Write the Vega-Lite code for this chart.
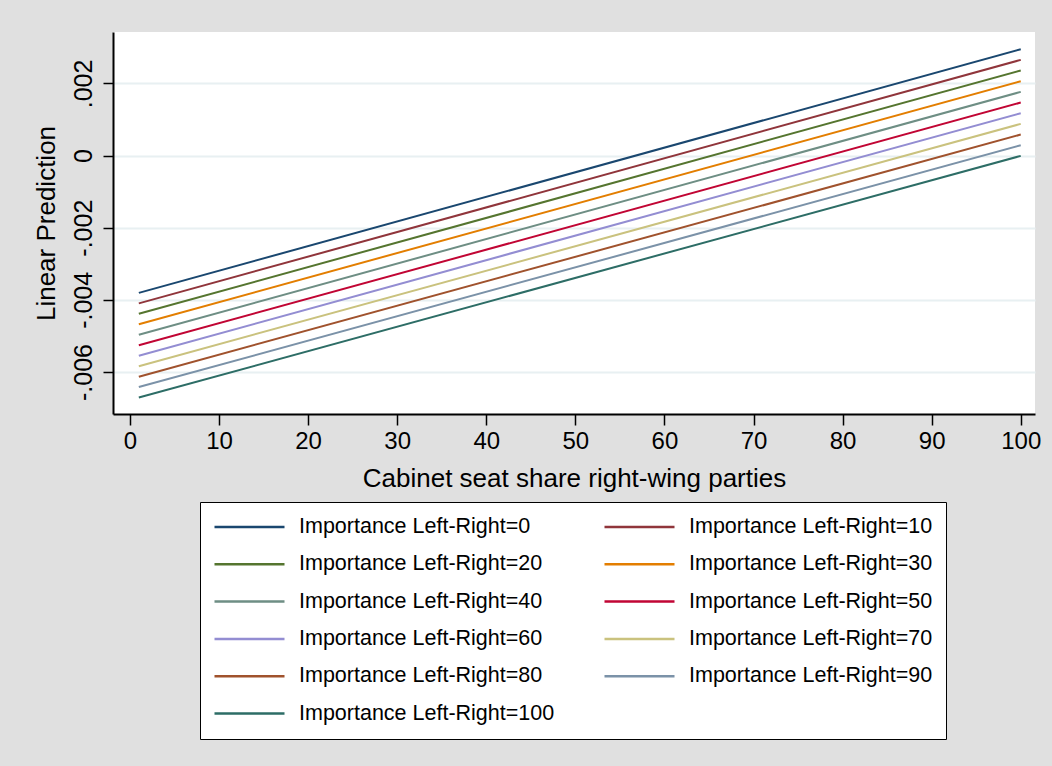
{
  "$schema": "https://vega.github.io/schema/vega-lite/v6.json",
  "autosize": {"type": "none"},
  "width": 922,
  "height": 382,
  "padding": {"left": 113, "top": 32, "right": 17, "bottom": 352},
  "background": "#e0e0e0",
  "config": {
    "font": "Liberation Sans",
    "view": {"fill": "white", "stroke": null}
  },
  "data": {
    "values": [
      {"share": 1, "pred": -0.003806, "grp": "Importance Left-Right=0"},
      {"share": 100, "pred": 0.002949, "grp": "Importance Left-Right=0"},
      {"share": 1, "pred": -0.004097, "grp": "Importance Left-Right=10"},
      {"share": 100, "pred": 0.002653, "grp": "Importance Left-Right=10"},
      {"share": 1, "pred": -0.004385, "grp": "Importance Left-Right=20"},
      {"share": 100, "pred": 0.002359, "grp": "Importance Left-Right=20"},
      {"share": 1, "pred": -0.004676, "grp": "Importance Left-Right=30"},
      {"share": 100, "pred": 0.002062, "grp": "Importance Left-Right=30"},
      {"share": 1, "pred": -0.004967, "grp": "Importance Left-Right=40"},
      {"share": 100, "pred": 0.001766, "grp": "Importance Left-Right=40"},
      {"share": 1, "pred": -0.005259, "grp": "Importance Left-Right=50"},
      {"share": 100, "pred": 0.001469, "grp": "Importance Left-Right=50"},
      {"share": 1, "pred": -0.005547, "grp": "Importance Left-Right=60"},
      {"share": 100, "pred": 0.001175, "grp": "Importance Left-Right=60"},
      {"share": 1, "pred": -0.005838, "grp": "Importance Left-Right=70"},
      {"share": 100, "pred": 0.000879, "grp": "Importance Left-Right=70"},
      {"share": 1, "pred": -0.006129, "grp": "Importance Left-Right=80"},
      {"share": 100, "pred": 0.000582, "grp": "Importance Left-Right=80"},
      {"share": 1, "pred": -0.006417, "grp": "Importance Left-Right=90"},
      {"share": 100, "pred": 0.000286, "grp": "Importance Left-Right=90"},
      {"share": 1, "pred": -0.006708, "grp": "Importance Left-Right=100"},
      {"share": 100, "pred": -0.000008, "grp": "Importance Left-Right=100"}
    ]
  },
  "mark": {"type": "line", "strokeWidth": 2, "strokeCap": "butt"},
  "encoding": {
    "x": {
      "field": "share",
      "type": "quantitative",
      "scale": {"domain": [-1.9, 101.6], "nice": false, "zero": false},
      "axis": {
        "values": [0, 10, 20, 30, 40, 50, 60, 70, 80, 90, 100],
        "title": "Cabinet seat share right-wing parties",
        "titleFont": "Liberation Sans",
        "titleFontSize": 26,
        "titleFontWeight": "normal",
        "titleColor": "black",
        "titlePadding": 12,
        "labelFont": "Liberation Sans",
        "labelFontSize": 24,
        "labelColor": "black",
        "labelPadding": 4,
        "labelBaseline": "top",
        "labelFlush": false,
        "labelOverlap": false,
        "grid": false,
        "domainColor": "black",
        "domainWidth": 2,
        "tickColor": "black",
        "tickWidth": 1.5,
        "tickSize": 11
      }
    },
    "y": {
      "field": "pred",
      "type": "quantitative",
      "scale": {"domain": [-0.007164, 0.003425], "nice": false, "zero": false},
      "axis": {
        "values": [-0.006, -0.004, -0.002, 0, 0.002],
        "labelExpr": "datum.value == 0 ? '0' : (datum.value < 0 ? '-' : '') + '.' + format(abs(datum.value) * 1000, '03d')",
        "title": "Linear Prediction",
        "titleFont": "Liberation Sans",
        "titleFontSize": 26,
        "titleFontWeight": "normal",
        "titleColor": "black",
        "titlePadding": 12,
        "labelFont": "Liberation Sans",
        "labelFontSize": 25,
        "labelColor": "black",
        "labelAngle": -90,
        "labelAlign": "center",
        "labelBaseline": "alphabetic",
        "labelPadding": 12,
        "labelFlush": false,
        "labelOverlap": false,
        "grid": true,
        "gridColor": "#e8f0f2",
        "gridWidth": 2,
        "domainColor": "black",
        "domainWidth": 2,
        "tickColor": "black",
        "tickWidth": 1.5,
        "tickSize": 10
      }
    },
    "color": {
      "field": "grp",
      "type": "nominal",
      "scale": {
        "domain": [
          "Importance Left-Right=0",
          "Importance Left-Right=20",
          "Importance Left-Right=40",
          "Importance Left-Right=60",
          "Importance Left-Right=80",
          "Importance Left-Right=100",
          "Importance Left-Right=10",
          "Importance Left-Right=30",
          "Importance Left-Right=50",
          "Importance Left-Right=70",
          "Importance Left-Right=90"
        ],
        "range": ["#1a476f", "#55752f", "#6e8e84", "#938dd2", "#a0522d", "#2d6d66", "#90353b", "#e37e00", "#c10534", "#cac27e", "#7b92a8"]
      },
      "legend": {
        "orient": "none",
        "legendX": 87,
        "legendY": 470,
        "title": null,
        "columns": 2,
        "gridAlign": "all",
        "symbolType": "stroke",
        "symbolSize": 4900,
        "symbolStrokeWidth": 2.5,
        "labelOffset": 13,
        "labelFont": "Liberation Sans",
        "labelFontSize": 21.5,
        "labelColor": "black",
        "labelLimit": 400,
        "clipHeight": 24,
        "rowPadding": 13.3,
        "columnPadding": 48,
        "padding": 13,
        "fillColor": "white",
        "strokeColor": "black"
      }
    }
  }
}
